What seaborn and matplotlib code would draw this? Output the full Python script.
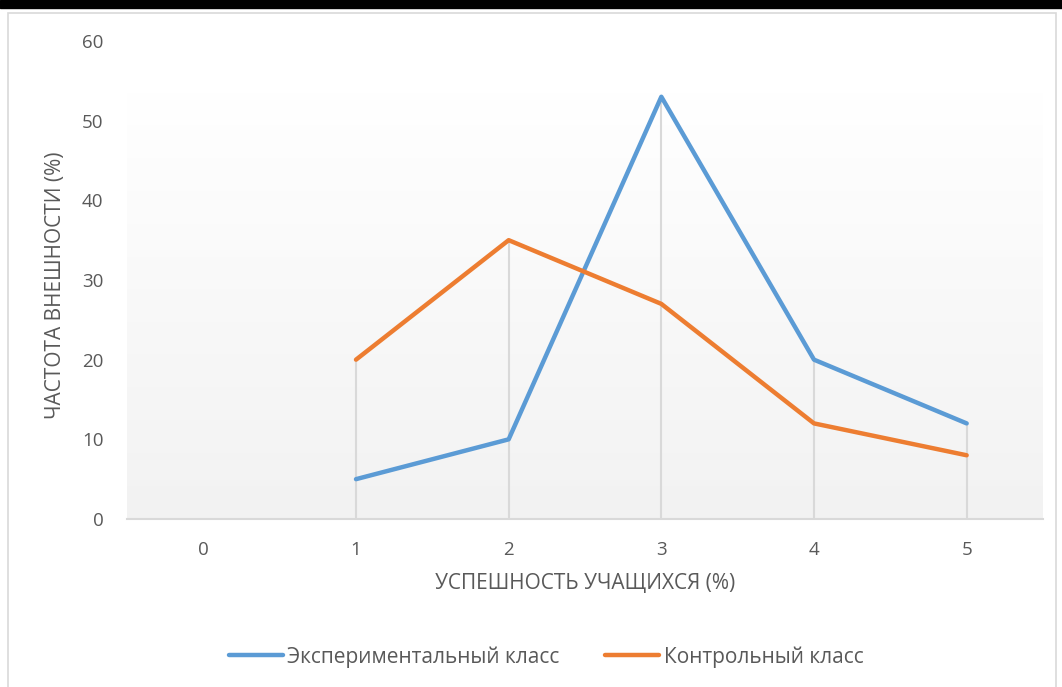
import numpy as np
import pandas as pd
import seaborn as sns
import matplotlib.pyplot as plt
from matplotlib.colors import LinearSegmentedColormap
from matplotlib.patches import Rectangle
from matplotlib.lines import Line2D

# data
categories = [0, 1, 2, 3, 4, 5]
experimental = [np.nan, 5, 10, 53, 20, 12]
control = [np.nan, 20, 35, 27, 12, 8]
series_names = ['Экспериментальный класс', 'Контрольный класс']
colors = ['#5b9bd5', '#ed7d31']

df = pd.DataFrame({
    'x': categories * 2,
    'y': experimental + control,
    'series': [series_names[0]] * 6 + [series_names[1]] * 6,
})

sns.set_style('white')
plt.rcParams['font.family'] = ['Open Sans', 'DejaVu Sans']
text_color = '#595959'

fig = plt.figure(figsize=(10.62, 6.87), dpi=100)
W, H = 1062, 687
ax = fig.add_axes([127 / W, 1 - 519 / H, (1043 - 127) / W, (519 - 41) / H])

# gradient plot area background (white at top -> light gray at bottom)
grad = np.linspace(1.0, 0.0, 256).reshape(-1, 1)
cmap = LinearSegmentedColormap.from_list('g', ['#f2f2f2', '#ffffff'])
ax.imshow(grad, extent=[-0.5, 5.5, 0, 53.5], aspect='auto', cmap=cmap,
          zorder=0, origin='upper', vmin=0, vmax=1)

# drop lines
tops = np.nanmax(np.vstack([experimental, control]), axis=0)
mask = ~np.isnan(tops)
ax.vlines(np.array(categories)[mask], 0, tops[mask], color='#d9d9d9', lw=1.5, zorder=1)

sns.lineplot(data=df, x='x', y='y', hue='series', palette=colors, lw=3.2,
             ax=ax, legend=False, zorder=3, solid_capstyle='round')

ax.set_xlim(-0.5, 5.5)
ax.set_ylim(0, 60)
ax.set_xticks(categories)
ax.set_yticks(np.arange(0, 61, 10))
ax.tick_params(axis='both', length=0, labelsize=13.5, colors=text_color)
ax.tick_params(axis='y', pad=17)
ax.tick_params(axis='x', pad=16)
for s in ['top', 'right', 'left']:
    ax.spines[s].set_visible(False)
ax.spines['bottom'].set_color('#d9d9d9')
ax.spines['bottom'].set_linewidth(1.5)
ax.set_facecolor('none')

ax.set_xlabel('УСПЕШНОСТЬ УЧАЩИХСЯ (%)', fontsize=15, color=text_color, labelpad=10)
ax.set_ylabel('ЧАСТОТА ВНЕШНОСТИ (%)', fontsize=15, color=text_color)
ax.yaxis.set_label_coords(-(127 - 66) / (1043 - 127), 0.49)

handles = [Line2D([0], [0], color=c, lw=3.2, solid_capstyle='round') for c in colors]
fig.legend(handles, series_names, loc='center', bbox_to_anchor=(546 / W, 1 - 657 / H),
           ncol=2, frameon=False, fontsize=15, labelcolor=text_color,
           handlelength=2.6, handletextpad=0.2, columnspacing=2.2)

# chart frame and black top bar
fig.patches.append(Rectangle((8 / W, -0.01), (1056 - 8) / W, 1 - 13 / H + 0.01,
                             transform=fig.transFigure, fill=False, ec='#d9d9d9', lw=1.2))
fig.patches.append(Rectangle((0, 1 - 8 / H), 1, 8 / H, transform=fig.transFigure,
                             color='black'))

fig.savefig('out.png', dpi=100)
